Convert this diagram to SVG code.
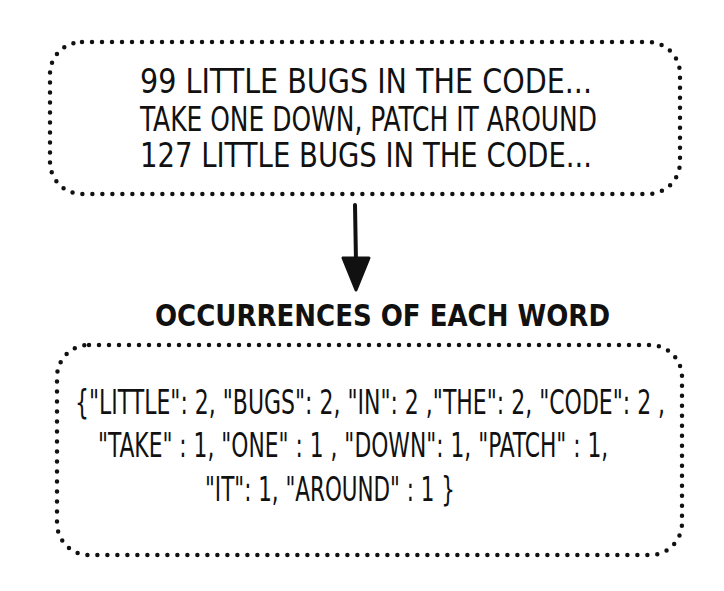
<svg xmlns="http://www.w3.org/2000/svg" width="724" height="591" viewBox="0 0 724 591">
<style>
.box{fill:none;stroke:#111;stroke-width:4.5;stroke-linecap:round;stroke-dasharray:0 10}
.t{font-family:"DejaVu Sans Condensed","Liberation Sans",sans-serif;fill:#111;font-size:33px}
.h{font-family:"DejaVu Sans Condensed","Liberation Sans",sans-serif;fill:#111;font-size:30px;font-weight:bold}
.c{stroke:#111;stroke-width:4;fill:none;stroke-linecap:round}
</style>
<rect width="724" height="591" fill="#fff"/>
<g id="input">
<rect class="box" x="50" y="42" width="630" height="152" rx="32"/>
<text class="t" x="140" y="93" textLength="452" lengthAdjust="spacingAndGlyphs">99 LITTLE  BUGS  IN THE  CODE...</text>
<text class="t" x="140" y="131" textLength="457" lengthAdjust="spacingAndGlyphs">TAKE ONE DOWN, PATCH IT AROUND</text>
<text class="t" x="140" y="167" textLength="452" lengthAdjust="spacingAndGlyphs">127 LITTLE  BUGS  IN THE  CODE...</text>
</g>
<g id="connectors">
<path class="c" d="M355 205 L356 262"/>
<path d="M343 258 L369 258 L356 290 Z" fill="#111" stroke="#111" stroke-width="3" stroke-linejoin="round"/>
</g>
<g id="label">
<text class="h" x="155" y="326" textLength="455" lengthAdjust="spacingAndGlyphs">OCCURRENCES  OF EACH  WORD</text>
</g>
<g id="output">
<rect class="box" x="57" y="345" width="625" height="210" rx="32"/>
<text class="t" transform="translate(75 414) scale(0.7 1)" textLength="843" lengthAdjust="spacingAndGlyphs">{"LITTLE": 2, "BUGS": 2, "IN": 2 ,"THE": 2, "CODE": 2 ,</text>
<text class="t" transform="translate(98 457) scale(0.7 1)" textLength="729" lengthAdjust="spacingAndGlyphs">"TAKE" : 1, "ONE" : 1 , "DOWN": 1, "PATCH" : 1,</text>
<text class="t" transform="translate(205 501) scale(0.7 1)" textLength="357" lengthAdjust="spacingAndGlyphs">"IT": 1, "AROUND" : 1 }</text>
</g>
</svg>
